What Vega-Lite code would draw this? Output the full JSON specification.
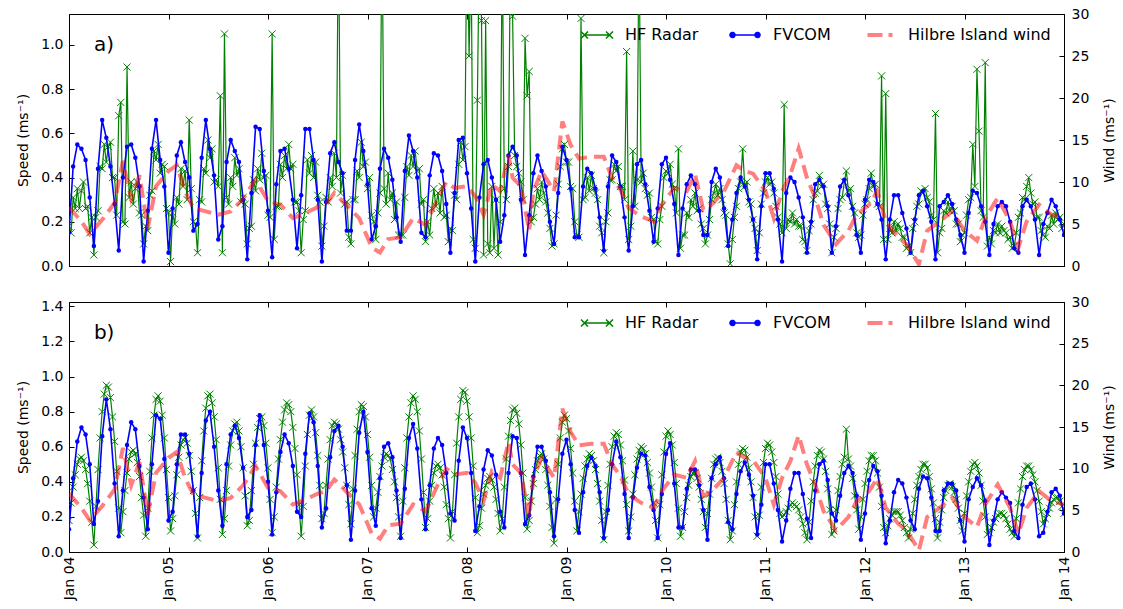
{
"$schema":"https://vega.github.io/schema/vega-lite/v6.json",
"padding":{"left":16,"top":6,"right":0,"bottom":0},
"background":"white",
"config":{
"font":"DejaVu Sans",
"view":{"stroke":"black","strokeWidth":1},
"concat":{"spacing":20},
"axis":{"grid":false,"domainColor":"black","tickColor":"black","labelColor":"black","titleColor":"black","labelFontSize":14,"titleFontSize":14,"titleFontWeight":"normal","tickSize":-5,"labelPadding":11,"labelFlush":false,"labelOverlap":false,"labelBound":false,"titlePadding":10}
},
"datasets":{"d":[
{"t":"2014-01-04T00:00","a":0.18,"b":0.18,"fa":0.15,"fb":0.13,"w":7.0},
{"t":"2014-01-04T00:30","a":0.15,"b":0.28},
{"t":"2014-01-04T01:00","a":0.31,"b":0.37,"fa":0.45,"fb":0.42},
{"t":"2014-01-04T01:30","a":0.26,"b":0.44},
{"t":"2014-01-04T02:00","a":0.35,"b":0.5,"fa":0.55,"fb":0.63},
{"t":"2014-01-04T02:30","a":0.26,"b":0.53},
{"t":"2014-01-04T03:00","a":0.34,"b":0.54,"fa":0.53,"fb":0.71,"w":5.3},
{"t":"2014-01-04T03:30","a":0.38,"b":0.52},
{"t":"2014-01-04T04:00","a":0.26,"b":0.47,"fa":0.48,"fb":0.67},
{"t":"2014-01-04T04:30","a":0.27,"b":0.39},
{"t":"2014-01-04T05:00","a":0.15,"b":0.29,"fa":0.31,"fb":0.5,"w":3.8},
{"t":"2014-01-04T05:30","a":0.22,"b":0.17},
{"t":"2014-01-04T06:00","a":0.05,"b":0.04,"fa":0.09,"fb":0.16},
{"t":"2014-01-04T06:30","a":0.22,"b":0.26},
{"t":"2014-01-04T07:00","a":0.25,"b":0.47,"fa":0.44,"fb":0.29},
{"t":"2014-01-04T07:30","a":0.45,"b":0.65},
{"t":"2014-01-04T08:00","a":0.44,"b":0.8,"fa":0.66,"fb":0.66,"w":5.5},
{"t":"2014-01-04T08:30","a":0.55,"b":0.9},
{"t":"2014-01-04T09:00","a":0.47,"b":0.95,"fa":0.58,"fb":0.87},
{"t":"2014-01-04T09:30","a":0.54,"b":0.94},
{"t":"2014-01-04T10:00","a":0.56,"b":0.88,"fa":0.45,"fb":0.7},
{"t":"2014-01-04T10:30","a":0.4,"b":0.77},
{"t":"2014-01-04T11:00","a":0.4,"b":0.63,"fa":0.28,"fb":0.39,"w":7.5},
{"t":"2014-01-04T11:30","a":0.23,"b":0.46},
{"t":"2014-01-04T12:00","a":0.68,"b":0.25,"fa":0.07,"fb":0.09},
{"t":"2014-01-04T12:30","a":0.74,"b":0.11},
{"t":"2014-01-04T13:00","a":0.2,"b":0.23,"fa":0.4,"fb":0.35,"w":12.5},
{"t":"2014-01-04T13:30","a":0.19,"b":0.35},
{"t":"2014-01-04T14:00","a":0.9,"b":0.45,"fa":0.54,"fb":0.61},
{"t":"2014-01-04T14:30","a":0.31,"b":0.53},
{"t":"2014-01-04T15:00","a":0.38,"b":0.57,"fa":0.55,"fb":0.74,"w":8},
{"t":"2014-01-04T15:30","a":0.28,"b":0.58},
{"t":"2014-01-04T16:00","a":0.35,"b":0.56,"fa":0.49,"fb":0.7},
{"t":"2014-01-04T16:30","a":0.38,"b":0.51},
{"t":"2014-01-04T17:00","a":0.24,"b":0.43,"fa":0.36,"fb":0.49,"w":10.8},
{"t":"2014-01-04T17:30","a":0.23,"b":0.31},
{"t":"2014-01-04T18:00","a":0.1,"b":0.21,"fa":0.02,"fb":0.31},
{"t":"2014-01-04T18:30","a":0.18,"b":0.09},
{"t":"2014-01-04T19:00","a":0.16,"b":0.25,"fa":0.25,"fb":0.13,"w":4.5},
{"t":"2014-01-04T19:30","a":0.32,"b":0.46},
{"t":"2014-01-04T20:00","a":0.34,"b":0.65,"fa":0.53,"fb":0.5},
{"t":"2014-01-04T20:30","a":0.52,"b":0.78},
{"t":"2014-01-04T21:00","a":0.48,"b":0.87,"fa":0.66,"fb":0.78,"w":9.5},
{"t":"2014-01-04T21:30","a":0.55,"b":0.89},
{"t":"2014-01-04T22:00","a":0.42,"b":0.86,"fa":0.48,"fb":0.76},
{"t":"2014-01-04T22:30","a":0.46,"b":0.78},
{"t":"2014-01-04T23:00","a":0.45,"b":0.65,"fa":0.36,"fb":0.53},
{"t":"2014-01-04T23:30","a":0.26,"b":0.47},
{"t":"2014-01-05T00:00","a":0.24,"b":0.31,"fa":0.06,"fb":0.18,"w":11.3},
{"t":"2014-01-05T00:30","a":0.02,"b":0.12},
{"t":"2014-01-05T01:00","a":0.24,"b":0.19,"fa":0.26,"fb":0.23},
{"t":"2014-01-05T01:30","a":0.19,"b":0.32},
{"t":"2014-01-05T02:00","a":0.31,"b":0.44,"fa":0.5,"fb":0.5,"w":12},
{"t":"2014-01-05T02:30","a":0.28,"b":0.54},
{"t":"2014-01-05T03:00","a":0.44,"b":0.61,"fa":0.56,"fb":0.67},
{"t":"2014-01-05T03:30","a":0.36,"b":0.64},
{"t":"2014-01-05T04:00","a":0.43,"b":0.65,"fa":0.47,"fb":0.67,"w":8.9},
{"t":"2014-01-05T04:30","a":0.3,"b":0.62},
{"t":"2014-01-05T05:00","a":0.66,"b":0.55,"fa":0.4,"fb":0.56},
{"t":"2014-01-05T05:30","a":0.35,"b":0.46},
{"t":"2014-01-05T06:00","a":0.2,"b":0.35,"fa":0.16,"fb":0.35,"w":6.9},
{"t":"2014-01-05T06:30","a":0.19,"b":0.22},
{"t":"2014-01-05T07:00","a":0.06,"b":0.08,"fa":0.19,"fb":0.09},
{"t":"2014-01-05T07:30","a":0.3,"b":0.31},
{"t":"2014-01-05T08:00","a":0.29,"b":0.52,"fa":0.49,"fb":0.45},
{"t":"2014-01-05T08:30","a":0.44,"b":0.69},
{"t":"2014-01-05T09:00","a":0.42,"b":0.82,"fa":0.66,"fb":0.75,"w":6.5},
{"t":"2014-01-05T09:30","a":0.57,"b":0.89},
{"t":"2014-01-05T10:00","a":0.49,"b":0.9,"fa":0.53,"fb":0.8},
{"t":"2014-01-05T10:30","a":0.53,"b":0.85},
{"t":"2014-01-05T11:00","a":0.38,"b":0.77,"fa":0.41,"fb":0.6},
{"t":"2014-01-05T11:30","a":0.39,"b":0.64},
{"t":"2014-01-05T12:00","a":0.36,"b":0.48,"fa":0.12,"fb":0.35,"w":6.1},
{"t":"2014-01-05T12:30","a":0.77,"b":0.3},
{"t":"2014-01-05T13:00","a":0.06,"b":0.1,"fa":0.18,"fb":0.15},
{"t":"2014-01-05T13:30","a":1.05,"b":0.19},
{"t":"2014-01-05T14:00","a":0.31,"b":0.35,"fa":0.47,"fb":0.5},
{"t":"2014-01-05T14:30","a":0.28,"b":0.49},
{"t":"2014-01-05T15:00","a":0.4,"b":0.61,"fa":0.57,"fb":0.67,"w":6.5},
{"t":"2014-01-05T15:30","a":0.36,"b":0.69},
{"t":"2014-01-05T16:00","a":0.49,"b":0.73,"fa":0.52,"fb":0.72},
{"t":"2014-01-05T16:30","a":0.41,"b":0.74},
{"t":"2014-01-05T17:00","a":0.44,"b":0.69,"fa":0.47,"fb":0.65},
{"t":"2014-01-05T17:30","a":0.29,"b":0.6},
{"t":"2014-01-05T18:00","a":0.31,"b":0.48,"fa":0.3,"fb":0.48,"w":8},
{"t":"2014-01-05T18:30","a":0.28,"b":0.32},
{"t":"2014-01-05T19:00","a":0.1,"b":0.15,"fa":0.03,"fb":0.2},
{"t":"2014-01-05T19:30","a":0.17,"b":0.18},
{"t":"2014-01-05T20:00","a":0.18,"b":0.35,"fa":0.33,"fb":0.24},
{"t":"2014-01-05T20:30","a":0.39,"b":0.5},
{"t":"2014-01-05T21:00","a":0.34,"b":0.62,"fa":0.63,"fb":0.61,"w":10.3},
{"t":"2014-01-05T21:30","a":0.44,"b":0.71},
{"t":"2014-01-05T22:00","a":0.39,"b":0.76,"fa":0.62,"fb":0.78},
{"t":"2014-01-05T22:30","a":0.51,"b":0.77},
{"t":"2014-01-05T23:00","a":0.4,"b":0.72,"fa":0.43,"fb":0.61},
{"t":"2014-01-05T23:30","a":0.41,"b":0.62},
{"t":"2014-01-06T00:00","a":0.23,"b":0.48,"fa":0.25,"fb":0.4,"w":7.7},
{"t":"2014-01-06T00:30","a":0.22,"b":0.3},
{"t":"2014-01-06T01:00","a":1.05,"b":0.11,"fa":0.04,"fb":0.1},
{"t":"2014-01-06T01:30","a":0.12,"b":0.2},
{"t":"2014-01-06T02:00","a":0.27,"b":0.37,"fa":0.37,"fb":0.34},
{"t":"2014-01-06T02:30","a":0.27,"b":0.53},
{"t":"2014-01-06T03:00","a":0.46,"b":0.64,"fa":0.52,"fb":0.57,"w":7.3},
{"t":"2014-01-06T03:30","a":0.4,"b":0.74},
{"t":"2014-01-06T04:00","a":0.5,"b":0.81,"fa":0.53,"fb":0.67},
{"t":"2014-01-06T04:30","a":0.44,"b":0.85},
{"t":"2014-01-06T05:00","a":0.55,"b":0.84,"fa":0.44,"fb":0.62},
{"t":"2014-01-06T05:30","a":0.44,"b":0.8},
{"t":"2014-01-06T06:00","a":0.46,"b":0.71,"fa":0.3,"fb":0.49,"w":5.7},
{"t":"2014-01-06T06:30","a":0.29,"b":0.59},
{"t":"2014-01-06T07:00","a":0.29,"b":0.44,"fa":0.08,"fb":0.23},
{"t":"2014-01-06T07:30","a":0.25,"b":0.27},
{"t":"2014-01-06T08:00","a":0.06,"b":0.09,"fa":0.32,"fb":0.2},
{"t":"2014-01-06T08:30","a":0.21,"b":0.26},
{"t":"2014-01-06T09:00","a":0.25,"b":0.49,"fa":0.62,"fb":0.56,"w":6.3},
{"t":"2014-01-06T09:30","a":0.48,"b":0.67},
{"t":"2014-01-06T10:00","a":0.42,"b":0.78,"fa":0.62,"fb":0.79},
{"t":"2014-01-06T10:30","a":0.5,"b":0.81},
{"t":"2014-01-06T11:00","a":0.4,"b":0.77,"fa":0.48,"fb":0.74},
{"t":"2014-01-06T11:30","a":0.47,"b":0.68},
{"t":"2014-01-06T12:00","a":0.32,"b":0.55,"fa":0.3,"fb":0.49,"w":7.0},
{"t":"2014-01-06T12:30","a":0.29,"b":0.38},
{"t":"2014-01-06T13:00","a":0.09,"b":0.19,"fa":0.02,"fb":0.14},
{"t":"2014-01-06T13:30","a":0.18,"b":0.22},
{"t":"2014-01-06T14:00","a":0.31,"b":0.38,"fa":0.29,"fb":0.25,"w":7.3},
{"t":"2014-01-06T14:30","a":0.29,"b":0.53},
{"t":"2014-01-06T15:00","a":0.4,"b":0.64,"fa":0.51,"fb":0.54},
{"t":"2014-01-06T15:30","a":0.36,"b":0.72},
{"t":"2014-01-06T16:00","a":0.51,"b":0.74,"fa":0.56,"fb":0.69,"w":8.7},
{"t":"2014-01-06T16:30","a":0.4,"b":0.73},
{"t":"2014-01-06T17:00","a":1.6,"b":0.7,"fa":0.47,"fb":0.72},
{"t":"2014-01-06T17:30","a":0.33,"b":0.64},
{"t":"2014-01-06T18:00","a":0.41,"b":0.57,"fa":0.42,"fb":0.6},
{"t":"2014-01-06T18:30","a":0.28,"b":0.48},
{"t":"2014-01-06T19:00","a":0.29,"b":0.38,"fa":0.16,"fb":0.38,"w":7.2},
{"t":"2014-01-06T19:30","a":0.13,"b":0.27},
{"t":"2014-01-06T20:00","a":0.1,"b":0.16,"fa":0.16,"fb":0.07},
{"t":"2014-01-06T20:30","a":0.3,"b":0.36},
{"t":"2014-01-06T21:00","a":0.3,"b":0.55,"fa":0.48,"fb":0.35},
{"t":"2014-01-06T21:30","a":0.43,"b":0.7},
{"t":"2014-01-06T22:00","a":0.4,"b":0.8,"fa":0.64,"fb":0.68,"w":5.7},
{"t":"2014-01-06T22:30","a":0.56,"b":0.84},
{"t":"2014-01-06T23:00","a":0.45,"b":0.83,"fa":0.52,"fb":0.8},
{"t":"2014-01-06T23:30","a":0.47,"b":0.77},
{"t":"2014-01-07T00:00","a":0.35,"b":0.67,"fa":0.37,"fb":0.57,"w":3.4},
{"t":"2014-01-07T00:30","a":0.4,"b":0.54},
{"t":"2014-01-07T01:00","a":0.23,"b":0.38,"fa":0.12,"fb":0.25,"w":2.2},
{"t":"2014-01-07T01:30","a":0.2,"b":0.2},
{"t":"2014-01-07T02:00","a":0.12,"b":0.25,"fa":0.18,"fb":0.15},
{"t":"2014-01-07T02:30","a":0.24,"b":0.34},
{"t":"2014-01-07T03:00","a":0.33,"b":0.43,"fa":0.44,"fb":0.42,"w":1.6},
{"t":"2014-01-07T03:30","a":1.6,"b":0.49},
{"t":"2014-01-07T04:00","a":0.35,"b":0.54,"fa":0.53,"fb":0.6},
{"t":"2014-01-07T04:30","a":0.28,"b":0.56},
{"t":"2014-01-07T05:00","a":0.42,"b":0.55,"fa":0.49,"fb":0.62,"w":3.2},
{"t":"2014-01-07T05:30","a":0.3,"b":0.53},
{"t":"2014-01-07T06:00","a":0.33,"b":0.47,"fa":0.39,"fb":0.54},
{"t":"2014-01-07T06:30","a":0.21,"b":0.4},
{"t":"2014-01-07T07:00","a":0.29,"b":0.31,"fa":0.22,"fb":0.35},
{"t":"2014-01-07T07:30","a":0.14,"b":0.2},
{"t":"2014-01-07T08:00","a":0.14,"b":0.09,"fa":0.11,"fb":0.08,"w":3.4},
{"t":"2014-01-07T08:30","a":0.14,"b":0.29},
{"t":"2014-01-07T09:00","a":0.31,"b":0.48,"fa":0.43,"fb":0.36},
{"t":"2014-01-07T09:30","a":0.45,"b":0.65},
{"t":"2014-01-07T10:00","a":0.41,"b":0.77,"fa":0.59,"fb":0.65},
{"t":"2014-01-07T10:30","a":0.5,"b":0.85},
{"t":"2014-01-07T11:00","a":0.45,"b":0.89,"fa":0.52,"fb":0.73,"w":5.7},
{"t":"2014-01-07T11:30","a":0.52,"b":0.87},
{"t":"2014-01-07T12:00","a":0.43,"b":0.8,"fa":0.4,"fb":0.59},
{"t":"2014-01-07T12:30","a":0.44,"b":0.69},
{"t":"2014-01-07T13:00","a":0.28,"b":0.53,"fa":0.15,"fb":0.3},
{"t":"2014-01-07T13:30","a":0.3,"b":0.34},
{"t":"2014-01-07T14:00","a":0.11,"b":0.14,"fa":0.13,"fb":0.13,"w":4.9},
{"t":"2014-01-07T14:30","a":0.2,"b":0.19},
{"t":"2014-01-07T15:00","a":0.14,"b":0.29,"fa":0.41,"fb":0.38},
{"t":"2014-01-07T15:30","a":0.26,"b":0.38},
{"t":"2014-01-07T16:00","a":0.35,"b":0.45,"fa":0.51,"fb":0.59},
{"t":"2014-01-07T16:30","a":0.27,"b":0.49},
{"t":"2014-01-07T17:00","a":0.33,"b":0.5,"fa":0.5,"fb":0.65,"w":8.1},
{"t":"2014-01-07T17:30","a":0.24,"b":0.48},
{"t":"2014-01-07T18:00","a":0.36,"b":0.44,"fa":0.43,"fb":0.61},
{"t":"2014-01-07T18:30","a":0.22,"b":0.37},
{"t":"2014-01-07T19:00","a":0.23,"b":0.27,"fa":0.28,"fb":0.45,"w":10},
{"t":"2014-01-07T19:30","a":0.11,"b":0.19},
{"t":"2014-01-07T20:00","a":0.17,"b":0.08,"fa":0.06,"fb":0.22},
{"t":"2014-01-07T20:30","a":0.16,"b":0.23},
{"t":"2014-01-07T21:00","a":0.32,"b":0.44,"fa":0.33,"fb":0.18,"w":9.3},
{"t":"2014-01-07T21:30","a":0.3,"b":0.62},
{"t":"2014-01-07T22:00","a":0.46,"b":0.77,"fa":0.57,"fb":0.52},
{"t":"2014-01-07T22:30","a":0.56,"b":0.87},
{"t":"2014-01-07T23:00","a":0.48,"b":0.92,"fa":0.58,"fb":0.71},
{"t":"2014-01-07T23:30","a":0.54,"b":0.91},
{"t":"2014-01-08T00:00","a":1.6,"b":0.86,"fa":0.42,"fb":0.65,"w":9.5},
{"t":"2014-01-08T00:30","a":0.95,"b":0.77},
{"t":"2014-01-08T01:00","a":1.4,"b":0.65,"fa":0.26,"fb":0.45},
{"t":"2014-01-08T01:30","a":0.12,"b":0.49},
{"t":"2014-01-08T02:00","a":0.08,"b":0.31,"fa":0.02,"fb":0.12,"w":8.3},
{"t":"2014-01-08T02:30","a":0.75,"b":0.11},
{"t":"2014-01-08T03:00","a":1.5,"b":0.15,"fa":0.31,"fb":0.26},
{"t":"2014-01-08T03:30","a":1.11,"b":0.25},
{"t":"2014-01-08T04:00","a":0.05,"b":0.33,"fa":0.46,"fb":0.47,"w":6.1},
{"t":"2014-01-08T04:30","a":1.11,"b":0.38},
{"t":"2014-01-08T05:00","a":0.1,"b":0.42,"fa":0.48,"fb":0.58},
{"t":"2014-01-08T05:30","a":0.06,"b":0.43},
{"t":"2014-01-08T06:00","a":0.36,"b":0.41,"fa":0.4,"fb":0.55,"w":9.7},
{"t":"2014-01-08T06:30","a":0.08,"b":0.37},
{"t":"2014-01-08T07:00","a":0.3,"b":0.3,"fa":0.3,"fb":0.44},
{"t":"2014-01-08T07:30","a":0.05,"b":0.22},
{"t":"2014-01-08T08:00","a":0.2,"b":0.12,"fa":0.11,"fb":0.23,"w":8.9},
{"t":"2014-01-08T08:30","a":1.5,"b":0.19},
{"t":"2014-01-08T09:00","a":0.35,"b":0.37,"fa":0.23,"fb":0.14},
{"t":"2014-01-08T09:30","a":0.3,"b":0.53},
{"t":"2014-01-08T10:00","a":0.45,"b":0.66,"fa":0.5,"fb":0.45,"w":13.2},
{"t":"2014-01-08T10:30","a":1.5,"b":0.75},
{"t":"2014-01-08T11:00","a":1.13,"b":0.81,"fa":0.54,"fb":0.66,"w":10.5},
{"t":"2014-01-08T11:30","a":0.5,"b":0.82},
{"t":"2014-01-08T12:00","a":0.45,"b":0.79,"fa":0.5,"fb":0.65},
{"t":"2014-01-08T12:30","a":0.42,"b":0.73},
{"t":"2014-01-08T13:00","a":0.38,"b":0.61,"fa":0.3,"fb":0.45,"w":9.5},
{"t":"2014-01-08T13:30","a":0.3,"b":0.45},
{"t":"2014-01-08T14:00","a":1.03,"b":0.31,"fa":0.05,"fb":0.16},
{"t":"2014-01-08T14:30","a":0.77,"b":0.13},
{"t":"2014-01-08T15:00","a":0.88,"b":0.18,"fa":0.23,"fb":0.21,"w":4.2},
{"t":"2014-01-08T15:30","a":0.2,"b":0.29},
{"t":"2014-01-08T16:00","a":0.22,"b":0.39,"fa":0.42,"fb":0.43,"w":8.9},
{"t":"2014-01-08T16:30","a":0.28,"b":0.47},
{"t":"2014-01-08T17:00","a":0.35,"b":0.52,"fa":0.5,"fb":0.6},
{"t":"2014-01-08T17:30","a":0.3,"b":0.55},
{"t":"2014-01-08T18:00","a":0.38,"b":0.56,"fa":0.43,"fb":0.6,"w":11.3},
{"t":"2014-01-08T18:30","a":0.33,"b":0.53},
{"t":"2014-01-08T19:00","a":0.29,"b":0.47,"fa":0.36,"fb":0.52},
{"t":"2014-01-08T19:30","a":0.24,"b":0.38},
{"t":"2014-01-08T20:00","a":0.17,"b":0.26,"fa":0.2,"fb":0.34},
{"t":"2014-01-08T20:30","a":0.09,"b":0.14},
{"t":"2014-01-08T21:00","a":0.1,"b":0.05,"fa":0.1,"fb":0.09,"w":8.9},
{"t":"2014-01-08T21:30","a":0.23,"b":0.3},
{"t":"2014-01-08T22:00","a":0.37,"b":0.5,"fa":0.33,"fb":0.3},
{"t":"2014-01-08T22:30","a":0.45,"b":0.65},
{"t":"2014-01-08T23:00","a":0.53,"b":0.74,"fa":0.54,"fb":0.56,"w":17.2},
{"t":"2014-01-08T23:30","a":0.55,"b":0.78},
{"t":"2014-01-09T00:00","a":0.47,"b":0.76,"fa":0.48,"fb":0.64},
{"t":"2014-01-09T00:30","a":0.47,"b":0.69},
{"t":"2014-01-09T01:00","a":0.36,"b":0.59,"fa":0.35,"fb":0.5,"w":14.4},
{"t":"2014-01-09T01:30","a":0.35,"b":0.45},
{"t":"2014-01-09T02:00","a":0.2,"b":0.29,"fa":0.13,"fb":0.24},
{"t":"2014-01-09T02:30","a":0.14,"b":0.12},
{"t":"2014-01-09T03:00","a":0.13,"b":0.23,"fa":0.13,"fb":0.11,"w":12.8},
{"t":"2014-01-09T03:30","a":1.12,"b":0.33},
{"t":"2014-01-09T04:00","a":0.3,"b":0.42,"fa":0.36,"fb":0.34},
{"t":"2014-01-09T04:30","a":0.31,"b":0.49},
{"t":"2014-01-09T05:00","a":0.4,"b":0.53,"fa":0.44,"fb":0.49},
{"t":"2014-01-09T05:30","a":0.34,"b":0.56},
{"t":"2014-01-09T06:00","a":0.41,"b":0.55,"fa":0.42,"fb":0.54,"w":13},
{"t":"2014-01-09T06:30","a":0.35,"b":0.52},
{"t":"2014-01-09T07:00","a":0.33,"b":0.47,"fa":0.35,"fb":0.49},
{"t":"2014-01-09T07:30","a":0.3,"b":0.39},
{"t":"2014-01-09T08:00","a":0.18,"b":0.29,"fa":0.22,"fb":0.34},
{"t":"2014-01-09T08:30","a":0.15,"b":0.18},
{"t":"2014-01-09T09:00","a":0.06,"b":0.07,"fa":0.07,"fb":0.08,"w":13},
{"t":"2014-01-09T09:30","a":0.2,"b":0.23},
{"t":"2014-01-09T10:00","a":0.24,"b":0.38,"fa":0.36,"fb":0.24},
{"t":"2014-01-09T10:30","a":0.39,"b":0.5},
{"t":"2014-01-09T11:00","a":0.39,"b":0.6,"fa":0.5,"fb":0.5,"w":10.5},
{"t":"2014-01-09T11:30","a":0.46,"b":0.66},
{"t":"2014-01-09T12:00","a":0.43,"b":0.68,"fa":0.47,"fb":0.63},
{"t":"2014-01-09T12:30","a":0.45,"b":0.67},
{"t":"2014-01-09T13:00","a":0.36,"b":0.61,"fa":0.36,"fb":0.54,"w":9.1},
{"t":"2014-01-09T13:30","a":0.36,"b":0.52},
{"t":"2014-01-09T14:00","a":0.3,"b":0.41,"fa":0.22,"fb":0.33},
{"t":"2014-01-09T14:30","a":0.97,"b":0.27},
{"t":"2014-01-09T15:00","a":0.12,"b":0.12,"fa":0.07,"fb":0.08,"w":6.9},
{"t":"2014-01-09T15:30","a":0.18,"b":0.2},
{"t":"2014-01-09T16:00","a":0.52,"b":0.33,"fa":0.27,"fb":0.31},
{"t":"2014-01-09T16:30","a":0.27,"b":0.44},
{"t":"2014-01-09T17:00","a":0.39,"b":0.53,"fa":0.46,"fb":0.48},
{"t":"2014-01-09T17:30","a":1.5,"b":0.58},
{"t":"2014-01-09T18:00","a":0.38,"b":0.6,"fa":0.48,"fb":0.56,"w":5.9},
{"t":"2014-01-09T18:30","a":0.42,"b":0.59},
{"t":"2014-01-09T19:00","a":0.35,"b":0.56,"fa":0.37,"fb":0.55},
{"t":"2014-01-09T19:30","a":0.32,"b":0.51},
{"t":"2014-01-09T20:00","a":0.33,"b":0.45,"fa":0.25,"fb":0.37},
{"t":"2014-01-09T20:30","a":0.22,"b":0.37},
{"t":"2014-01-09T21:00","a":0.21,"b":0.28,"fa":0.11,"fb":0.24,"w":5.3},
{"t":"2014-01-09T21:30","a":0.11,"b":0.18},
{"t":"2014-01-09T22:00","a":0.1,"b":0.08,"fa":0.26,"fb":0.08},
{"t":"2014-01-09T22:30","a":0.21,"b":0.27},
{"t":"2014-01-09T23:00","a":0.27,"b":0.44,"fa":0.46,"fb":0.33,"w":7.3},
{"t":"2014-01-09T23:30","a":0.4,"b":0.57},
{"t":"2014-01-10T00:00","a":0.43,"b":0.66,"fa":0.49,"fb":0.56},
{"t":"2014-01-10T00:30","a":0.42,"b":0.69},
{"t":"2014-01-10T01:00","a":0.46,"b":0.67,"fa":0.39,"fb":0.62},
{"t":"2014-01-10T01:30","a":0.37,"b":0.61},
{"t":"2014-01-10T02:00","a":0.35,"b":0.51,"fa":0.28,"fb":0.39,"w":9.3},
{"t":"2014-01-10T02:30","a":0.24,"b":0.39},
{"t":"2014-01-10T03:00","a":0.53,"b":0.25,"fa":0.05,"fb":0.14},
{"t":"2014-01-10T03:30","a":0.08,"b":0.09},
{"t":"2014-01-10T04:00","a":0.14,"b":0.14,"fa":0.26,"fb":0.14},
{"t":"2014-01-10T04:30","a":0.14,"b":0.23},
{"t":"2014-01-10T05:00","a":0.24,"b":0.31,"fa":0.37,"fb":0.36,"w":8.9},
{"t":"2014-01-10T05:30","a":0.22,"b":0.38},
{"t":"2014-01-10T06:00","a":0.3,"b":0.43,"fa":0.41,"fb":0.47},
{"t":"2014-01-10T06:30","a":0.27,"b":0.45},
{"t":"2014-01-10T07:00","a":0.33,"b":0.45,"fa":0.37,"fb":0.47,"w":10.9},
{"t":"2014-01-10T07:30","a":0.25,"b":0.42},
{"t":"2014-01-10T08:00","a":0.26,"b":0.37,"fa":0.25,"fb":0.38},
{"t":"2014-01-10T08:30","a":0.19,"b":0.3},
{"t":"2014-01-10T09:00","a":0.17,"b":0.23,"fa":0.14,"fb":0.24,"w":6.7},
{"t":"2014-01-10T09:30","a":0.1,"b":0.14},
{"t":"2014-01-10T10:00","a":0.14,"b":0.22,"fa":0.14,"fb":0.07},
{"t":"2014-01-10T10:30","a":0.21,"b":0.33},
{"t":"2014-01-10T11:00","a":0.3,"b":0.42,"fa":0.38,"fb":0.42,"w":7.3},
{"t":"2014-01-10T11:30","a":0.33,"b":0.5},
{"t":"2014-01-10T12:00","a":0.37,"b":0.53,"fa":0.44,"fb":0.5},
{"t":"2014-01-10T12:30","a":0.32,"b":0.54},
{"t":"2014-01-10T13:00","a":0.35,"b":0.51,"fa":0.4,"fb":0.54},
{"t":"2014-01-10T13:30","a":0.3,"b":0.46},
{"t":"2014-01-10T14:00","a":0.24,"b":0.39,"fa":0.26,"fb":0.42,"w":8.9},
{"t":"2014-01-10T14:30","a":0.23,"b":0.3},
{"t":"2014-01-10T15:00","a":0.1,"b":0.18,"fa":0.09,"fb":0.17},
{"t":"2014-01-10T15:30","a":0.01,"b":0.07},
{"t":"2014-01-10T16:00","a":0.12,"b":0.12,"fa":0.21,"fb":0.13},
{"t":"2014-01-10T16:30","a":0.22,"b":0.27},
{"t":"2014-01-10T17:00","a":0.27,"b":0.4,"fa":0.33,"fb":0.33,"w":12},
{"t":"2014-01-10T17:30","a":0.35,"b":0.5},
{"t":"2014-01-10T18:00","a":0.38,"b":0.57,"fa":0.4,"fb":0.46},
{"t":"2014-01-10T18:30","a":0.53,"b":0.59},
{"t":"2014-01-10T19:00","a":0.36,"b":0.58,"fa":0.36,"fb":0.51,"w":11.3},
{"t":"2014-01-10T19:30","a":0.38,"b":0.54},
{"t":"2014-01-10T20:00","a":0.29,"b":0.48,"fa":0.3,"fb":0.44},
{"t":"2014-01-10T20:30","a":0.28,"b":0.4},
{"t":"2014-01-10T21:00","a":0.21,"b":0.31,"fa":0.21,"fb":0.32,"w":11},
{"t":"2014-01-10T21:30","a":0.17,"b":0.2},
{"t":"2014-01-10T22:00","a":0.07,"b":0.09,"fa":0.03,"fb":0.1},
{"t":"2014-01-10T22:30","a":0.15,"b":0.21},
{"t":"2014-01-10T23:00","a":0.28,"b":0.37,"fa":0.27,"fb":0.27},
{"t":"2014-01-10T23:30","a":0.33,"b":0.51},
{"t":"2014-01-11T00:00","a":0.38,"b":0.59,"fa":0.42,"fb":0.5,"w":8.9},
{"t":"2014-01-11T00:30","a":0.4,"b":0.62},
{"t":"2014-01-11T01:00","a":0.37,"b":0.61,"fa":0.42,"fb":0.5},
{"t":"2014-01-11T01:30","a":0.38,"b":0.57},
{"t":"2014-01-11T02:00","a":0.33,"b":0.51,"fa":0.35,"fb":0.39,"w":5.7},
{"t":"2014-01-11T02:30","a":0.27,"b":0.43},
{"t":"2014-01-11T03:00","a":0.22,"b":0.33,"fa":0.21,"fb":0.24},
{"t":"2014-01-11T03:30","a":0.19,"b":0.22},
{"t":"2014-01-11T04:00","a":0.15,"b":0.2,"fa":0.02,"fb":0.06,"w":8.9},
{"t":"2014-01-11T04:30","a":0.73,"b":0.21},
{"t":"2014-01-11T05:00","a":0.17,"b":0.23,"fa":0.33,"fb":0.18},
{"t":"2014-01-11T05:30","a":0.21,"b":0.25},
{"t":"2014-01-11T06:00","a":0.2,"b":0.27,"fa":0.4,"fb":0.36,"w":10.9},
{"t":"2014-01-11T06:30","a":0.24,"b":0.28},
{"t":"2014-01-11T07:00","a":0.19,"b":0.27,"fa":0.38,"fb":0.45},
{"t":"2014-01-11T07:30","a":0.21,"b":0.26},
{"t":"2014-01-11T08:00","a":0.18,"b":0.24,"fa":0.31,"fb":0.45,"w":14},
{"t":"2014-01-11T08:30","a":0.18,"b":0.2},
{"t":"2014-01-11T09:00","a":0.12,"b":0.16,"fa":0.22,"fb":0.33},
{"t":"2014-01-11T09:30","a":0.11,"b":0.11},
{"t":"2014-01-11T10:00","a":0.07,"b":0.07,"fa":0.06,"fb":0.19,"w":10.5},
{"t":"2014-01-11T10:30","a":0.16,"b":0.17},
{"t":"2014-01-11T11:00","a":0.19,"b":0.29,"fa":0.2,"fb":0.08},
{"t":"2014-01-11T11:30","a":0.3,"b":0.4},
{"t":"2014-01-11T12:00","a":0.33,"b":0.49,"fa":0.37,"fb":0.35,"w":8.1},
{"t":"2014-01-11T12:30","a":0.34,"b":0.55},
{"t":"2014-01-11T13:00","a":0.41,"b":0.58,"fa":0.39,"fb":0.5},
{"t":"2014-01-11T13:30","a":0.36,"b":0.57},
{"t":"2014-01-11T14:00","a":0.37,"b":0.53,"fa":0.36,"fb":0.52,"w":4.9},
{"t":"2014-01-11T14:30","a":0.28,"b":0.46},
{"t":"2014-01-11T15:00","a":0.26,"b":0.36,"fa":0.27,"fb":0.41},
{"t":"2014-01-11T15:30","a":0.19,"b":0.24},
{"t":"2014-01-11T16:00","a":0.06,"b":0.1,"fa":0.06,"fb":0.22},
{"t":"2014-01-11T16:30","a":0.13,"b":0.12},
{"t":"2014-01-11T17:00","a":0.17,"b":0.24,"fa":0.18,"fb":0.18,"w":2.6},
{"t":"2014-01-11T17:30","a":0.26,"b":0.35},
{"t":"2014-01-11T18:00","a":0.3,"b":0.43,"fa":0.36,"fb":0.32},
{"t":"2014-01-11T18:30","a":0.31,"b":0.5},
{"t":"2014-01-11T19:00","a":0.38,"b":0.54,"fa":0.39,"fb":0.45},
{"t":"2014-01-11T19:30","a":0.43,"b":0.7},
{"t":"2014-01-11T20:00","a":0.34,"b":0.53,"fa":0.32,"fb":0.49,"w":4.2},
{"t":"2014-01-11T20:30","a":0.35,"b":0.49},
{"t":"2014-01-11T21:00","a":0.27,"b":0.42,"fa":0.26,"fb":0.45},
{"t":"2014-01-11T21:30","a":0.24,"b":0.32},
{"t":"2014-01-11T22:00","a":0.15,"b":0.24,"fa":0.14,"fb":0.32,"w":6.1},
{"t":"2014-01-11T22:30","a":0.13,"b":0.13},
{"t":"2014-01-11T23:00","a":0.14,"b":0.2,"fa":0.06,"fb":0.07},
{"t":"2014-01-11T23:30","a":0.23,"b":0.3},
{"t":"2014-01-12T00:00","a":0.28,"b":0.39,"fa":0.3,"fb":0.22},
{"t":"2014-01-12T00:30","a":0.3,"b":0.46},
{"t":"2014-01-12T01:00","a":0.35,"b":0.52,"fa":0.39,"fb":0.41,"w":7.3},
{"t":"2014-01-12T01:30","a":0.42,"b":0.55},
{"t":"2014-01-12T02:00","a":0.36,"b":0.55,"fa":0.38,"fb":0.49},
{"t":"2014-01-12T02:30","a":0.37,"b":0.52},
{"t":"2014-01-12T03:00","a":0.28,"b":0.45,"fa":0.28,"fb":0.46,"w":8.9},
{"t":"2014-01-12T03:30","a":0.27,"b":0.37},
{"t":"2014-01-12T04:00","a":0.86,"b":0.26,"fa":0.21,"fb":0.32},
{"t":"2014-01-12T04:30","a":0.12,"b":0.14},
{"t":"2014-01-12T05:00","a":0.78,"b":0.11,"fa":0.03,"fb":0.05,"w":5.3},
{"t":"2014-01-12T05:30","a":0.12,"b":0.15},
{"t":"2014-01-12T06:00","a":0.17,"b":0.19,"fa":0.21,"fb":0.18},
{"t":"2014-01-12T06:30","a":0.15,"b":0.21},
{"t":"2014-01-12T07:00","a":0.2,"b":0.23,"fa":0.32,"fb":0.34},
{"t":"2014-01-12T07:30","a":0.16,"b":0.23},
{"t":"2014-01-12T08:00","a":0.19,"b":0.23,"fa":0.32,"fb":0.41,"w":3.4},
{"t":"2014-01-12T08:30","a":0.17,"b":0.21},
{"t":"2014-01-12T09:00","a":0.13,"b":0.18,"fa":0.24,"fb":0.39},
{"t":"2014-01-12T09:30","a":0.13,"b":0.14},
{"t":"2014-01-12T10:00","a":0.08,"b":0.11,"fa":0.17,"fb":0.31,"w":2.6},
{"t":"2014-01-12T10:30","a":0.09,"b":0.08},
{"t":"2014-01-12T11:00","a":0.06,"b":0.13,"fa":0.06,"fb":0.18},
{"t":"2014-01-12T11:30","a":0.17,"b":0.22},
{"t":"2014-01-12T12:00","a":0.2,"b":0.3,"fa":0.21,"fb":0.13,"w":1.0},
{"t":"2014-01-12T12:30","a":0.27,"b":0.38},
{"t":"2014-01-12T13:00","a":0.28,"b":0.43,"fa":0.32,"fb":0.36,"w":0.2},
{"t":"2014-01-12T13:30","a":0.34,"b":0.47},
{"t":"2014-01-12T14:00","a":0.33,"b":0.5,"fa":0.34,"fb":0.43},
{"t":"2014-01-12T14:30","a":0.35,"b":0.5},
{"t":"2014-01-12T15:00","a":0.31,"b":0.48,"fa":0.27,"fb":0.42,"w":4.2},
{"t":"2014-01-12T15:30","a":0.29,"b":0.43},
{"t":"2014-01-12T16:00","a":0.23,"b":0.36,"fa":0.2,"fb":0.31},
{"t":"2014-01-12T16:30","a":0.21,"b":0.28},
{"t":"2014-01-12T17:00","a":0.69,"b":0.19,"fa":0.03,"fb":0.12},
{"t":"2014-01-12T17:30","a":0.06,"b":0.08},
{"t":"2014-01-12T18:00","a":0.15,"b":0.17,"fa":0.27,"fb":0.12,"w":5.3},
{"t":"2014-01-12T18:30","a":0.17,"b":0.24},
{"t":"2014-01-12T19:00","a":0.25,"b":0.31,"fa":0.29,"fb":0.35},
{"t":"2014-01-12T19:30","a":0.24,"b":0.35},
{"t":"2014-01-12T20:00","a":0.29,"b":0.38,"fa":0.32,"fb":0.39},
{"t":"2014-01-12T20:30","a":0.25,"b":0.39},
{"t":"2014-01-12T21:00","a":0.27,"b":0.37,"fa":0.28,"fb":0.39,"w":6.5},
{"t":"2014-01-12T21:30","a":0.25,"b":0.34},
{"t":"2014-01-12T22:00","a":0.19,"b":0.3,"fa":0.21,"fb":0.35},
{"t":"2014-01-12T22:30","a":0.19,"b":0.25},
{"t":"2014-01-12T23:00","a":0.11,"b":0.18,"fa":0.14,"fb":0.18},
{"t":"2014-01-12T23:30","a":0.14,"b":0.12},
{"t":"2014-01-13T00:00","a":0.15,"b":0.22,"fa":0.06,"fb":0.06,"w":4.2},
{"t":"2014-01-13T00:30","a":0.23,"b":0.32},
{"t":"2014-01-13T01:00","a":0.3,"b":0.4,"fa":0.24,"fb":0.3},
{"t":"2014-01-13T01:30","a":0.31,"b":0.46},
{"t":"2014-01-13T02:00","a":0.55,"b":0.5,"fa":0.34,"fb":0.37},
{"t":"2014-01-13T02:30","a":0.36,"b":0.51},
{"t":"2014-01-13T03:00","a":0.89,"b":0.49,"fa":0.33,"fb":0.42,"w":3},
{"t":"2014-01-13T03:30","a":0.61,"b":0.45},
{"t":"2014-01-13T04:00","a":0.25,"b":0.38,"fa":0.27,"fb":0.38},
{"t":"2014-01-13T04:30","a":0.22,"b":0.29},
{"t":"2014-01-13T05:00","a":0.92,"b":0.2,"fa":0.2,"fb":0.29,"w":5.7},
{"t":"2014-01-13T05:30","a":0.09,"b":0.1},
{"t":"2014-01-13T06:00","a":0.13,"b":0.11,"fa":0.05,"fb":0.04},
{"t":"2014-01-13T06:30","a":0.1,"b":0.14},
{"t":"2014-01-13T07:00","a":0.16,"b":0.17,"fa":0.19,"fb":0.18},
{"t":"2014-01-13T07:30","a":0.15,"b":0.19},
{"t":"2014-01-13T08:00","a":0.19,"b":0.21,"fa":0.27,"fb":0.3,"w":8.1},
{"t":"2014-01-13T08:30","a":0.15,"b":0.22},
{"t":"2014-01-13T09:00","a":0.18,"b":0.22,"fa":0.29,"fb":0.34},
{"t":"2014-01-13T09:30","a":0.16,"b":0.21},
{"t":"2014-01-13T10:00","a":0.15,"b":0.19,"fa":0.27,"fb":0.31},
{"t":"2014-01-13T10:30","a":0.12,"b":0.16},
{"t":"2014-01-13T11:00","a":0.13,"b":0.13,"fa":0.2,"fb":0.28,"w":5.3},
{"t":"2014-01-13T11:30","a":0.08,"b":0.11},
{"t":"2014-01-13T12:00","a":0.09,"b":0.09,"fa":0.08,"fb":0.12},
{"t":"2014-01-13T12:30","a":0.15,"b":0.19},
{"t":"2014-01-13T13:00","a":0.22,"b":0.28,"fa":0.06,"fb":0.08,"w":2.2},
{"t":"2014-01-13T13:30","a":0.24,"b":0.36},
{"t":"2014-01-13T14:00","a":0.31,"b":0.43,"fa":0.27,"fb":0.27},
{"t":"2014-01-13T14:30","a":0.3,"b":0.47},
{"t":"2014-01-13T15:00","a":0.36,"b":0.49,"fa":0.3,"fb":0.37,"w":5.3},
{"t":"2014-01-13T15:30","a":0.4,"b":0.49},
{"t":"2014-01-13T16:00","a":0.33,"b":0.47,"fa":0.27,"fb":0.39},
{"t":"2014-01-13T16:30","a":0.28,"b":0.44},
{"t":"2014-01-13T17:00","a":0.29,"b":0.4,"fa":0.21,"fb":0.3},
{"t":"2014-01-13T17:30","a":0.22,"b":0.35},
{"t":"2014-01-13T18:00","a":0.22,"b":0.29,"fa":0.05,"fb":0.09,"w":7.3},
{"t":"2014-01-13T18:30","a":0.16,"b":0.23},
{"t":"2014-01-13T19:00","a":0.14,"b":0.16,"fa":0.19,"fb":0.11},
{"t":"2014-01-13T19:30","a":0.13,"b":0.19},
{"t":"2014-01-13T20:00","a":0.18,"b":0.22,"fa":0.24,"fb":0.23},
{"t":"2014-01-13T20:30","a":0.17,"b":0.25},
{"t":"2014-01-13T21:00","a":0.23,"b":0.28,"fa":0.3,"fb":0.34,"w":6.1},
{"t":"2014-01-13T21:30","a":0.19,"b":0.3},
{"t":"2014-01-13T22:00","a":0.24,"b":0.31,"fa":0.27,"fb":0.36},
{"t":"2014-01-13T22:30","a":0.21,"b":0.31},
{"t":"2014-01-13T23:00","a":0.22,"b":0.29,"fa":0.21,"fb":0.32},
{"t":"2014-01-13T23:30","a":0.17,"b":0.26},
{"t":"2014-01-14T00:00","a":0.19,"b":0.22,"fa":0.14,"fb":0.22,"w":5.7}
]},
"data":{"name":"d"},
"vconcat":[
{
"width":995,"height":252,
"layer":[
{"mark":{"type":"line","strokeWidth":1.2,"clip":true},
"encoding":{
"x":{"field":"t","type":"temporal","scale":{"domain":[{"year":2014,"month":1,"date":4},{"year":2014,"month":1,"date":14}]},"axis":{"orient":"bottom","title":null,"labels":false,"tickCount":{"interval":"day","step":1}}},
"y":{"field":"a","type":"quantitative","scale":{"domain":[0,1.14],"nice":false,"zero":false},"axis":{"orient":"left","title":"Speed (ms⁻¹)","values":[0,0.2,0.4,0.6,0.8,1.0],"format":".1f"}},
"color":{"datum":"HF Radar","scale":{"domain":["HF Radar","FVCOM","Hilbre Island wind"],"range":["#008000","#0000ff","#ff0000"]},
"legend":{"orient":"top-right","direction":"horizontal","title":null,"offset":13,"padding":0,"labelFontSize":16,"labelFont":"DejaVu Sans","labelColor":"black","symbolSize":625,"labelOffset":20,"columnPadding":28,"labelLimit":400,
"encode":{"symbols":{"update":{
"shape":{"signal":"datum.value == 'HF Radar' ? 'M-1,0L1,0M-1.28,-0.28L-0.72,0.28M-1.28,0.28L-0.72,-0.28M0.72,-0.28L1.28,0.28M0.72,0.28L1.28,-0.28' : datum.value == 'FVCOM' ? 'M-1,0L1,0M-0.8,0A0.2,0.2,0,1,1,-1.2,0A0.2,0.2,0,1,1,-0.8,0ZM1.2,0A0.2,0.2,0,1,1,0.8,0A0.2,0.2,0,1,1,1.2,0Z' : 'M-1,0L0.2,0M0.68,0L1,0'"},
"stroke":{"signal":"datum.value == 'HF Radar' ? '#008000' : datum.value == 'FVCOM' ? '#0000ff' : '#ff0000'"},
"fill":{"signal":"datum.value == 'FVCOM' ? '#0000ff' : 'transparent'"},
"strokeWidth":{"signal":"datum.value == 'Hilbre Island wind' ? 4 : 1.5"},
"strokeOpacity":{"signal":"datum.value == 'Hilbre Island wind' ? 0.5 : 1"},
"opacity":{"value":1},
"strokeDash":{"value":[1,0]}
}}}}}}},
{"mark":{"type":"point","shape":"M-1,-1L1,1M-1,1L1,-1","filled":false,"size":50,"strokeWidth":1,"color":"#008000","opacity":1,"clip":true},
"encoding":{"x":{"field":"t","type":"temporal","axis":null},"y":{"field":"a","type":"quantitative","scale":{"domain":[0,1.14],"nice":false,"zero":false},"axis":null}}},
{"transform":[{"filter":"isValid(datum.fa)"}],
"mark":{"type":"line","strokeWidth":1.6,"clip":true},
"encoding":{"x":{"field":"t","type":"temporal","axis":null},"y":{"field":"fa","type":"quantitative","scale":{"domain":[0,1.14],"nice":false,"zero":false},"axis":null},"color":{"datum":"FVCOM"}}},
{"transform":[{"filter":"isValid(datum.fa)"}],
"mark":{"type":"circle","size":20,"color":"#0000ff","opacity":1,"clip":true},
"encoding":{"x":{"field":"t","type":"temporal","axis":null},"y":{"field":"fa","type":"quantitative","scale":{"domain":[0,1.14],"nice":false,"zero":false},"axis":null}}},
{"transform":[{"filter":"isValid(datum.w)"}],
"mark":{"type":"line","strokeWidth":4,"opacity":0.5,"strokeDash":[14,7],"clip":true},
"encoding":{"x":{"field":"t","type":"temporal","axis":null},
"y":{"field":"w","type":"quantitative","scale":{"domain":[0,30],"nice":false},"axis":{"orient":"right","title":"Wind (ms⁻¹)","titleAngle":270,"titleBaseline":"top","titlePadding":14,"labelPadding":12,"values":[0,5,10,15,20,25,30]}},
"color":{"datum":"Hilbre Island wind"}}},
{"data":{"values":[{"label":"a)"}]},
"mark":{"type":"text","fontSize":20,"align":"left","baseline":"middle","color":"black","font":"DejaVu Sans"},
"encoding":{"text":{"field":"label"},"x":{"datum":{"year":2014,"month":1,"date":4,"hours":6},"type":"temporal","axis":{"orient":"top","title":null,"labels":false,"domain":false,"tickCount":{"interval":"day","step":1}}},"y":{"datum":1.0,"type":"quantitative","scale":{"domain":[0,1.14],"nice":false,"zero":false},"axis":null}}}
],
"resolve":{"scale":{"y":"independent"}}
},
{
"width":995,"height":250,
"layer":[
{"mark":{"type":"line","strokeWidth":1.2,"clip":true},
"encoding":{
"x":{"field":"t","type":"temporal","scale":{"domain":[{"year":2014,"month":1,"date":4},{"year":2014,"month":1,"date":14}]},"axis":{"orient":"bottom","title":null,"format":"%b %d","labelAngle":-90,"labelPadding":9,"tickCount":{"interval":"day","step":1}}},
"y":{"field":"b","type":"quantitative","scale":{"domain":[0,1.425],"nice":false,"zero":false},"axis":{"orient":"left","title":"Speed (ms⁻¹)","values":[0,0.2,0.4,0.6,0.8,1.0,1.2,1.4],"format":".1f"}},
"color":{"datum":"HF Radar","scale":{"domain":["HF Radar","FVCOM","Hilbre Island wind"],"range":["#008000","#0000ff","#ff0000"]},
"legend":{"orient":"top-right","direction":"horizontal","title":null,"offset":13,"padding":0,"labelFontSize":16,"labelFont":"DejaVu Sans","labelColor":"black","symbolSize":625,"labelOffset":20,"columnPadding":28,"labelLimit":400,
"encode":{"symbols":{"update":{
"shape":{"signal":"datum.value == 'HF Radar' ? 'M-1,0L1,0M-1.28,-0.28L-0.72,0.28M-1.28,0.28L-0.72,-0.28M0.72,-0.28L1.28,0.28M0.72,0.28L1.28,-0.28' : datum.value == 'FVCOM' ? 'M-1,0L1,0M-0.8,0A0.2,0.2,0,1,1,-1.2,0A0.2,0.2,0,1,1,-0.8,0ZM1.2,0A0.2,0.2,0,1,1,0.8,0A0.2,0.2,0,1,1,1.2,0Z' : 'M-1,0L0.2,0M0.68,0L1,0'"},
"stroke":{"signal":"datum.value == 'HF Radar' ? '#008000' : datum.value == 'FVCOM' ? '#0000ff' : '#ff0000'"},
"fill":{"signal":"datum.value == 'FVCOM' ? '#0000ff' : 'transparent'"},
"strokeWidth":{"signal":"datum.value == 'Hilbre Island wind' ? 4 : 1.5"},
"strokeOpacity":{"signal":"datum.value == 'Hilbre Island wind' ? 0.5 : 1"},
"opacity":{"value":1},
"strokeDash":{"value":[1,0]}
}}}}}}},
{"mark":{"type":"point","shape":"M-1,-1L1,1M-1,1L1,-1","filled":false,"size":50,"strokeWidth":1,"color":"#008000","opacity":1,"clip":true},
"encoding":{"x":{"field":"t","type":"temporal","axis":null},"y":{"field":"b","type":"quantitative","scale":{"domain":[0,1.425],"nice":false,"zero":false},"axis":null}}},
{"transform":[{"filter":"isValid(datum.fb)"}],
"mark":{"type":"line","strokeWidth":1.6,"clip":true},
"encoding":{"x":{"field":"t","type":"temporal","axis":null},"y":{"field":"fb","type":"quantitative","scale":{"domain":[0,1.425],"nice":false,"zero":false},"axis":null},"color":{"datum":"FVCOM"}}},
{"transform":[{"filter":"isValid(datum.fb)"}],
"mark":{"type":"circle","size":20,"color":"#0000ff","opacity":1,"clip":true},
"encoding":{"x":{"field":"t","type":"temporal","axis":null},"y":{"field":"fb","type":"quantitative","scale":{"domain":[0,1.425],"nice":false,"zero":false},"axis":null}}},
{"transform":[{"filter":"isValid(datum.w)"}],
"mark":{"type":"line","strokeWidth":4,"opacity":0.5,"strokeDash":[14,7],"clip":true},
"encoding":{"x":{"field":"t","type":"temporal","axis":null},
"y":{"field":"w","type":"quantitative","scale":{"domain":[0,30],"nice":false},"axis":{"orient":"right","title":"Wind (ms⁻¹)","titleAngle":270,"titleBaseline":"top","titlePadding":14,"labelPadding":12,"values":[0,5,10,15,20,25,30]}},
"color":{"datum":"Hilbre Island wind"}}},
{"data":{"values":[{"label":"b)"}]},
"mark":{"type":"text","fontSize":20,"align":"left","baseline":"middle","color":"black","font":"DejaVu Sans"},
"encoding":{"text":{"field":"label"},"x":{"datum":{"year":2014,"month":1,"date":4,"hours":6},"type":"temporal","axis":{"orient":"top","title":null,"labels":false,"domain":false,"tickCount":{"interval":"day","step":1}}},"y":{"datum":1.25,"type":"quantitative","scale":{"domain":[0,1.425],"nice":false,"zero":false},"axis":null}}}
],
"resolve":{"scale":{"y":"independent"}}
}
],
"resolve":{"scale":{"color":"independent"},"legend":{"color":"independent"}}
}
